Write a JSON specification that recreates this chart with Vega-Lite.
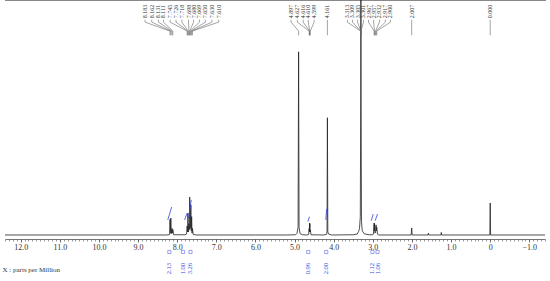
{
  "$schema": "https://vega.github.io/schema/vega-lite/v6.json",
  "width": 540,
  "height": 239,
  "padding": {"left": 5, "right": 5, "top": 0, "bottom": 42},
  "autosize": {"type": "none"},
  "config": {"view": {"stroke": null}, "font": "Liberation Serif"},
  "datasets": {
    "spec": [
      {"ppm": 12.4, "i": 0.2}, {"ppm": 10.0, "i": 0.2}, {"ppm": 8.3, "i": 0.2},
      {"ppm": 8.2, "i": 0.3}, {"ppm": 8.19, "i": 0.6}, {"ppm": 8.183, "i": 6.8}, {"ppm": 8.175, "i": 1.0},
      {"ppm": 8.162, "i": 7.4}, {"ppm": 8.15, "i": 0.8}, {"ppm": 8.131, "i": 3.0}, {"ppm": 8.12, "i": 1.0},
      {"ppm": 8.111, "i": 2.5}, {"ppm": 8.09, "i": 0.3}, {"ppm": 7.8, "i": 0.3},
      {"ppm": 7.76, "i": 0.6}, {"ppm": 7.745, "i": 4.0}, {"ppm": 7.735, "i": 1.5}, {"ppm": 7.726, "i": 9.5},
      {"ppm": 7.71, "i": 1.5}, {"ppm": 7.698, "i": 5.0}, {"ppm": 7.69, "i": 2.5}, {"ppm": 7.68, "i": 16.3},
      {"ppm": 7.665, "i": 3.0}, {"ppm": 7.65, "i": 13.0}, {"ppm": 7.64, "i": 2.0}, {"ppm": 7.63, "i": 8.0},
      {"ppm": 7.62, "i": 1.0}, {"ppm": 7.61, "i": 3.0}, {"ppm": 7.59, "i": 0.4}, {"ppm": 7.5, "i": 0.2},
      {"ppm": 6.0, "i": 0.2}, {"ppm": 5.2, "i": 0.2}, {"ppm": 4.97, "i": 0.3}, {"ppm": 4.94, "i": 0.8},
      {"ppm": 4.91, "i": 3.5}, {"ppm": 4.897, "i": 78}, {"ppm": 4.885, "i": 3.5}, {"ppm": 4.86, "i": 0.8},
      {"ppm": 4.8, "i": 0.3}, {"ppm": 4.7, "i": 0.2}, {"ppm": 4.64, "i": 0.4}, {"ppm": 4.627, "i": 3.0},
      {"ppm": 4.62, "i": 1.5}, {"ppm": 4.616, "i": 5.3}, {"ppm": 4.613, "i": 3.0}, {"ppm": 4.61, "i": 5.0},
      {"ppm": 4.605, "i": 1.5}, {"ppm": 4.599, "i": 2.5}, {"ppm": 4.58, "i": 0.3}, {"ppm": 4.25, "i": 0.2},
      {"ppm": 4.18, "i": 0.5}, {"ppm": 4.17, "i": 1.5}, {"ppm": 4.161, "i": 50}, {"ppm": 4.15, "i": 1.5},
      {"ppm": 4.13, "i": 0.6}, {"ppm": 4.05, "i": 0.2}, {"ppm": 3.5, "i": 0.3}, {"ppm": 3.4, "i": 0.6},
      {"ppm": 3.36, "i": 1.8}, {"ppm": 3.34, "i": 3.0}, {"ppm": 3.32, "i": 8.0}, {"ppm": 3.309, "i": 60},
      {"ppm": 3.305, "i": 100}, {"ppm": 3.301, "i": 60}, {"ppm": 3.29, "i": 6.0}, {"ppm": 3.27, "i": 2.0},
      {"ppm": 3.22, "i": 0.7}, {"ppm": 3.1, "i": 0.3}, {"ppm": 3.0, "i": 0.3}, {"ppm": 2.985, "i": 0.6},
      {"ppm": 2.967, "i": 5.3}, {"ppm": 2.962, "i": 2.0}, {"ppm": 2.957, "i": 5.0}, {"ppm": 2.945, "i": 1.0},
      {"ppm": 2.93, "i": 1.5}, {"ppm": 2.917, "i": 4.5}, {"ppm": 2.91, "i": 2.0}, {"ppm": 2.9, "i": 3.5},
      {"ppm": 2.88, "i": 0.5}, {"ppm": 2.85, "i": 0.2}, {"ppm": 2.02, "i": 0.2}, {"ppm": 2.007, "i": 3.2},
      {"ppm": 1.995, "i": 0.2}, {"ppm": 1.59, "i": 0.2}, {"ppm": 1.58, "i": 1.0}, {"ppm": 1.57, "i": 0.2},
      {"ppm": 1.26, "i": 0.2}, {"ppm": 1.25, "i": 1.3}, {"ppm": 1.24, "i": 0.2}, {"ppm": 0.01, "i": 0.2},
      {"ppm": 0.0, "i": 13.8}, {"ppm": -0.01, "i": 0.2}, {"ppm": -1.4, "i": 0.2}
    ],
    "peaks": [
      {"label": "8.183", "ppm": 8.183, "lppm": 8.82},
      {"label": "8.162", "ppm": 8.162, "lppm": 8.65},
      {"label": "8.131", "ppm": 8.131, "lppm": 8.48},
      {"label": "8.111", "ppm": 8.111, "lppm": 8.35},
      {"label": "7.745", "ppm": 7.745, "lppm": 8.18},
      {"label": "7.726", "ppm": 7.726, "lppm": 8.03},
      {"label": "7.718", "ppm": 7.718, "lppm": 7.88},
      {"label": "7.698", "ppm": 7.698, "lppm": 7.71},
      {"label": "7.680", "ppm": 7.68, "lppm": 7.58},
      {"label": "7.669", "ppm": 7.669, "lppm": 7.43},
      {"label": "7.650", "ppm": 7.65, "lppm": 7.28},
      {"label": "7.630", "ppm": 7.63, "lppm": 7.11},
      {"label": "7.610", "ppm": 7.61, "lppm": 6.94},
      {"label": "4.897", "ppm": 4.897, "lppm": 5.09},
      {"label": "4.627", "ppm": 4.627, "lppm": 4.93},
      {"label": "4.616", "ppm": 4.616, "lppm": 4.78},
      {"label": "4.610", "ppm": 4.61, "lppm": 4.65},
      {"label": "4.599", "ppm": 4.599, "lppm": 4.5},
      {"label": "4.161", "ppm": 4.161, "lppm": 4.161},
      {"label": "3.313", "ppm": 3.313, "lppm": 3.65},
      {"label": "3.309", "ppm": 3.309, "lppm": 3.52},
      {"label": "3.305", "ppm": 3.305, "lppm": 3.39},
      {"label": "3.301", "ppm": 3.301, "lppm": 3.24},
      {"label": "2.967", "ppm": 2.967, "lppm": 3.11},
      {"label": "2.957", "ppm": 2.957, "lppm": 2.98},
      {"label": "2.932", "ppm": 2.932, "lppm": 2.83},
      {"label": "2.917", "ppm": 2.917, "lppm": 2.68},
      {"label": "2.900", "ppm": 2.9, "lppm": 2.55},
      {"label": "2.007", "ppm": 2.007, "lppm": 2.007},
      {"label": "0.000", "ppm": 0.0, "lppm": 0.0}
    ],
    "integrals": [
      {"g": "a", "ppm": 8.24, "i": 6.6}, {"g": "a", "ppm": 8.14, "i": 12.1},
      {"g": "b", "ppm": 7.81, "i": 6.6}, {"g": "b", "ppm": 7.75, "i": 9.4},
      {"g": "c", "ppm": 7.71, "i": 7.4}, {"g": "c", "ppm": 7.64, "i": 15.1},
      {"g": "d", "ppm": 4.66, "i": 5.9}, {"g": "d", "ppm": 4.62, "i": 8.0},
      {"g": "e", "ppm": 4.2, "i": 6.6}, {"g": "e", "ppm": 4.18, "i": 11.3},
      {"g": "f", "ppm": 3.04, "i": 6.3}, {"g": "f", "ppm": 2.99, "i": 9.1},
      {"g": "h", "ppm": 2.94, "i": 6.3}, {"g": "h", "ppm": 2.88, "i": 9.1}
    ],
    "intlabels": [
      {"value": "2.13", "ppm": 8.2},
      {"value": "1.00", "ppm": 7.85},
      {"value": "3.26", "ppm": 7.66},
      {"value": "0.96", "ppm": 4.65},
      {"value": "2.00", "ppm": 4.19},
      {"value": "1.12", "ppm": 3.01},
      {"value": "1.06", "ppm": 2.88}
    ]
  },
  "layer": [
    {
      "data": {"name": "spec"},
      "mark": {"type": "line", "color": "#222222", "strokeWidth": 0.8, "clip": true},
      "encoding": {
        "x": {
          "field": "ppm", "type": "quantitative",
          "scale": {"domain": [-1.4, 12.4], "reverse": true, "nice": false, "zero": false},
          "axis": {
            "orient": "bottom",
            "values": [12, 11, 10, 9, 8, 7, 6, 5, 4, 3, 2, 1, 0, -1],
            "labelExpr": "datum.value == 0 ? '0' : format(datum.value, '.1f')",
            "grid": false, "domainColor": "#555555", "domainWidth": 0.8,
            "tickColor": "#555555", "tickSize": 3, "tickWidth": 0.8,
            "labelFontSize": 8, "labelColor": "#333333", "labelPadding": 1,
            "title": "X : parts per Million", "titleFontSize": 7, "titleFontWeight": "normal",
            "titleColor": "#333333", "titleAnchor": "start", "titleAlign": "left",
            "titleX": -3, "titleY": 30, "titleBaseline": "middle"
          }
        },
        "y": {
          "field": "i", "type": "quantitative",
          "scale": {"domain": [-1.5, 100], "nice": false, "zero": false},
          "axis": null
        }
      }
    },
    {
      "data": {"name": "integrals"},
      "mark": {"type": "line", "color": "#3344dd", "strokeWidth": 0.8},
      "encoding": {
        "x": {
          "field": "ppm", "type": "quantitative",
          "axis": {
            "orient": "bottom", "tickCount": 138, "labels": false, "grid": false,
            "domain": false, "tickColor": "#555555", "tickSize": 2, "tickWidth": 0.6, "title": null
          }
        },
        "y": {"field": "i", "type": "quantitative"},
        "detail": {"field": "g"}
      }
    },
    {
      "data": {"name": "peaks"},
      "mark": {"type": "rule", "color": "#666666", "strokeWidth": 0.6},
      "encoding": {
        "x": {"field": "lppm", "type": "quantitative"},
        "x2": {"field": "ppm"},
        "y": {"datum": 90.6},
        "y2": {"datum": 86.8}
      }
    },
    {
      "data": {"name": "peaks"},
      "mark": {"type": "rule", "color": "#666666", "strokeWidth": 0.6},
      "encoding": {
        "x": {"field": "lppm", "type": "quantitative"},
        "y": {"datum": 91.6},
        "y2": {"datum": 90.6}
      }
    },
    {
      "data": {"name": "peaks"},
      "mark": {"type": "rule", "color": "#666666", "strokeWidth": 0.6},
      "encoding": {
        "x": {"field": "ppm", "type": "quantitative"},
        "y": {"datum": 86.8},
        "y2": {"datum": 85.0}
      }
    },
    {
      "data": {"name": "peaks"},
      "mark": {"type": "text", "angle": 270, "align": "left", "baseline": "middle", "fontSize": 6, "color": "#333333"},
      "encoding": {
        "x": {"field": "lppm", "type": "quantitative"},
        "y": {"datum": 92.2},
        "text": {"field": "label"}
      }
    },
    {
      "data": {"name": "intlabels"},
      "mark": {"type": "point", "shape": "square", "size": 10, "filled": false, "color": "#3344dd", "strokeWidth": 0.7},
      "encoding": {
        "x": {"field": "ppm", "type": "quantitative"},
        "y": {"datum": -7.0}
      }
    },
    {
      "data": {"name": "intlabels"},
      "mark": {"type": "text", "angle": 270, "align": "left", "baseline": "middle", "fontSize": 6.5, "color": "#3344dd"},
      "encoding": {
        "x": {"field": "ppm", "type": "quantitative"},
        "y": {"datum": -16.5},
        "text": {"field": "value"}
      }
    }
  ],
  "resolve": {"axis": {"x": "independent"}}
}
